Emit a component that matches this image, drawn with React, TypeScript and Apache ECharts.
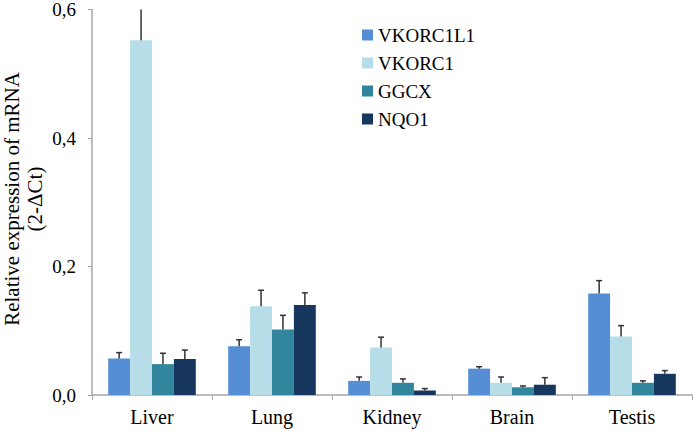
import React, { useEffect, useRef } from "react";
import * as echarts from "echarts";

const categories = ["Liver", "Lung", "Kidney", "Brain", "Testis"];
const seriesNames = ["VKORC1L1", "VKORC1", "GGCX", "NQO1"];
const colors = ["#558ED5", "#B7DEE8", "#31859C", "#17375E"];

const vkorc1l1 = [0.057, 0.076, 0.022, 0.041, 0.158];
const vkorc1 = [0.552, 0.138, 0.074, 0.019, 0.091];
const ggcx = [0.048, 0.102, 0.019, 0.012, 0.019];
const nqo1 = [0.056, 0.140, 0.007, 0.016, 0.033];

const vkorc1l1Err = [0.009, 0.010, 0.006, 0.003, 0.020];
const vkorc1Err = [0.06, 0.025, 0.016, 0.009, 0.017];
const ggcxErr = [0.017, 0.022, 0.006, 0.002, 0.003];
const nqo1Err = [0.014, 0.019, 0.003, 0.011, 0.005];

const yTicks = [0, 0.2, 0.4, 0.6];

const values = [vkorc1l1, vkorc1, ggcx, nqo1];
const errors = [vkorc1l1Err, vkorc1Err, ggcxErr, nqo1Err];

const FONT = "Liberation Serif";
const GAP = 0.27;

export default function App() {
  const ref = useRef<HTMLDivElement>(null);
  useEffect(() => {
    if (!ref.current) return;
    const chart = echarts.init(ref.current, null, { renderer: "svg" });
    const barSeries = seriesNames.map((name, i) => ({
      name,
      type: "bar",
      data: values[i],
      barGap: "0%",
      barCategoryGap: GAP * 100 + "%",
      itemStyle: { color: colors[i] },
      z: 2,
    }));
    const errSeries = seriesNames.map((name, i) => ({
      name: name + "_err",
      type: "custom",
      data: categories.map((_, j) => [j, values[i][j], values[i][j] + errors[i][j]]),
      encode: { x: 0, y: [1, 2] },
      clip: true,
      z: 3,
      silent: true,
      renderItem: (params: any, api: any) => {
        const cat = api.value(0);
        const band = api.size([1, 0])[0];
        const barW = (band * (1 - GAP)) / 4;
        const base = api.coord([cat, api.value(1)]);
        const top = api.coord([cat, api.value(2)]);
        const x = base[0] + (i - 1.5) * barW;
        const style = { stroke: "#333333", lineWidth: 1.5 };
        return {
          type: "group",
          children: [
            { type: "line", shape: { x1: x, y1: base[1], x2: x, y2: top[1] }, style },
            { type: "line", shape: { x1: x - 3, y1: top[1], x2: x + 3, y2: top[1] }, style },
          ],
        };
      },
    }));
    chart.setOption({
      animation: false,
      textStyle: { fontFamily: FONT },
      grid: { left: 92, right: 1, top: 7, bottom: 36 },
      legend: {
        data: seriesNames,
        orient: "vertical",
        left: 362,
        top: 25,
        padding: 0,
        icon: "rect",
        itemWidth: 11,
        itemHeight: 11,
        itemGap: 8,
        textStyle: { fontFamily: FONT, fontSize: 19, color: "#000", lineHeight: 20 },
      },
      xAxis: {
        type: "category",
        data: categories,
        axisLine: { lineStyle: { color: "#A6A6A6", width: 1.5 } },
        axisTick: { show: true, length: 5, lineStyle: { color: "#A6A6A6" } },
        axisLabel: { fontFamily: FONT, fontSize: 20, color: "#000", margin: 12 },
      },
      yAxis: {
        type: "value",
        min: 0,
        max: 0.6,
        interval: 0.2,
        splitLine: { show: false },
        axisLine: { show: true, lineStyle: { color: "#A6A6A6", width: 1.5 } },
        axisTick: { show: true, length: 4, lineStyle: { color: "#A6A6A6" } },
        axisLabel: {
          fontFamily: FONT,
          fontSize: 19,
          color: "#000",
          margin: 16,
          formatter: (v: number) =>
            yTicks.some((t) => Math.abs(t - v) < 1e-9) ? v.toFixed(1).replace(".", ",") : "",
        },
      },
      graphic: [
        {
          type: "text",
          x: 12,
          y: 199,
          rotation: Math.PI / 2,
          style: {
            text: "Relative expression of mRNA",
            fontFamily: FONT,
            fontSize: 21,
            fill: "#000",
            textAlign: "center",
            textVerticalAlign: "middle",
          },
        },
        {
          type: "text",
          x: 35,
          y: 199,
          rotation: Math.PI / 2,
          style: {
            text: "(2-ΔCt)",
            fontFamily: FONT,
            fontSize: 21,
            fill: "#000",
            textAlign: "center",
            textVerticalAlign: "middle",
          },
        },
      ],
      series: [...barSeries, ...errSeries],
    });
    return () => chart.dispose();
  }, []);
  return <div ref={ref} style={{ width: 693, height: 431, position: "absolute", left: 0, top: 0 }} />;
}
